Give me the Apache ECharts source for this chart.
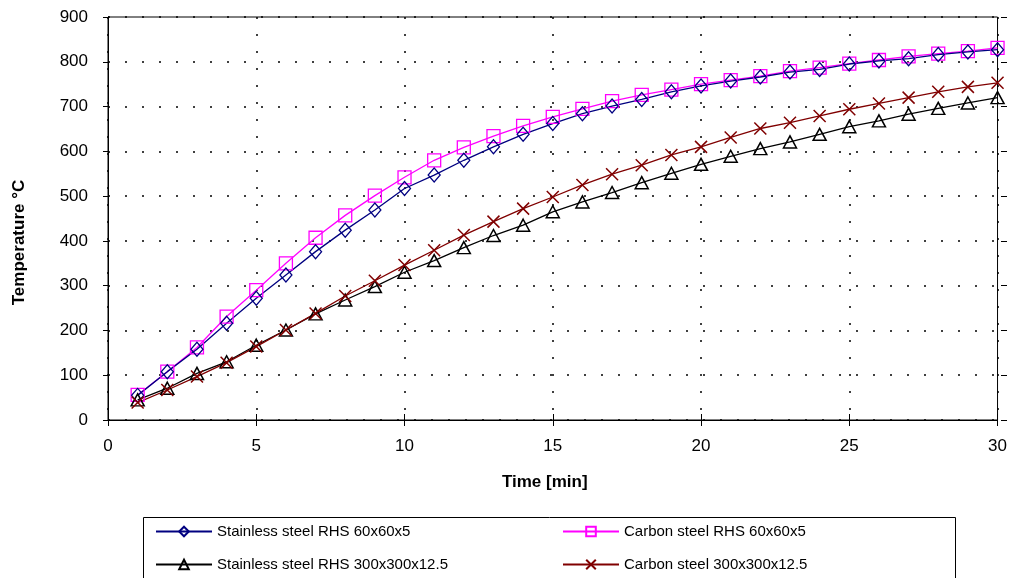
<!DOCTYPE html>
<html>
<head>
<meta charset="utf-8">
<script src="https://cdn.jsdelivr.net/npm/echarts@6/dist/echarts.min.js"></script>
<style>html,body{margin:0;padding:0;background:#fff}#c{width:1010px;height:578px}</style>
</head>
<body>
<div id="c"></div>
<script>
const times = [1,2,3,4,5,6,7,8,9,10,11,12,13,14,15,16,17,18,19,20,21,22,23,24,25,26,27,28,29,30];
const stainless60 = [55,108,158,216,272,324,376,424,469,517,547,580,610,638,662,684,701,716,733,746,757,766,777,783,795,802,807,816,822,827];
const carbon60 = [56,108,162,231,290,350,407,457,501,542,580,609,634,657,677,695,712,726,738,750,759,768,779,787,796,804,812,818,824,831];
const stainless300 = [45,71,104,130,167,201,237,268,298,330,356,385,412,435,465,487,508,530,551,571,589,606,621,638,655,668,683,696,708,720];
const carbon300 = [39,67,97,128,164,201,238,277,311,346,379,413,443,472,498,525,549,569,592,610,631,651,664,679,694,707,720,733,744,753];
const seriesNames = ['Stainless steel RHS 60x60x5','Carbon steel RHS 60x60x5','Stainless steel RHS 300x300x12.5','Carbon steel 300x300x12.5'];

const pair = arr => times.map((t,i)=>[t,arr[i]]);
const xPath = 'path://M0,0L10,10M10,0L0,10';
const font = 'Liberation Sans, Arial, sans-serif';
const grid = {type:[2,15], color:'#000', width:1.5};
const G = {left:108,right:9,top:17,bottom:158};
const W = 1010 - G.left - G.right, H = 578 - G.top - G.bottom;

const chart = echarts.init(document.getElementById('c'));
chart.setOption({
  animation:false,
  textStyle:{fontFamily:font},
  grid:Object.assign({show:true,borderColor:'#000',borderWidth:1,backgroundColor:'transparent'},G),
  xAxis:[{type:'value',min:0,max:30,interval:5,
    name:'Time [min]',nameLocation:'middle',nameGap:54,
    nameTextStyle:{fontSize:17,fontWeight:'bold',color:'#000',fontFamily:font,padding:[0,16,0,0]},
    axisLine:{lineStyle:{color:'#000',width:1}},
    axisTick:{length:6,lineStyle:{color:'#000'}},
    axisLabel:{fontSize:17,color:'#000',margin:18,fontFamily:font},
    splitLine:{show:true,lineStyle:grid}},
   {type:'value',min:0,max:30,interval:5,position:'top',offset:-H,
    axisLine:{show:false},axisTick:{show:true,length:6,lineStyle:{color:'#000'}},
    axisLabel:{show:false},splitLine:{show:false}}],
  yAxis:[{type:'value',min:0,max:900,interval:100,
    name:'Temperature °C',nameLocation:'middle',nameGap:80,
    nameTextStyle:{fontSize:17,fontWeight:'bold',color:'#000',fontFamily:font,padding:[0,48,0,0]},
    axisLine:{show:true,lineStyle:{color:'#000',width:1}},
    axisTick:{show:true,length:5,lineStyle:{color:'#000'}},
    axisLabel:{fontSize:17,color:'#000',margin:20,fontFamily:font,padding:[6,0,0,0]},
    splitLine:{show:true,lineStyle:grid}},
   {type:'value',min:0,max:900,interval:100,position:'right',offset:-W,
    axisLine:{show:false},axisTick:{show:true,length:6,lineStyle:{color:'#000'}},
    axisLabel:{show:false},splitLine:{show:false}}],
  legend:[
    {data:[seriesNames[0],seriesNames[2]],orient:'vertical',left:150,top:519,itemGap:18,itemWidth:56,itemHeight:12,
     textStyle:{fontSize:15,color:'#000',fontFamily:font}},
    {data:[seriesNames[1],seriesNames[3]],orient:'vertical',left:557,top:519,itemGap:18,itemWidth:56,itemHeight:12,
     textStyle:{fontSize:15,color:'#000',fontFamily:font}}
  ],
  graphic:[{type:'rect',shape:{x:143.5,y:517.5,width:812,height:80},style:{fill:'none',stroke:'#000',lineWidth:1},silent:true,z:-1}],
  series:[
    {name:seriesNames[1],type:'line',data:pair(carbon60),symbol:'rect',symbolSize:13,
     lineStyle:{color:'#FF00FF',width:1.3},itemStyle:{color:'none',borderColor:'#FF00FF',borderWidth:1.3}},
    {name:seriesNames[0],type:'line',data:pair(stainless60),symbol:'diamond',symbolSize:[12,14],
     lineStyle:{color:'#000080',width:1.3},itemStyle:{color:'none',borderColor:'#000080',borderWidth:1.3}},
    {name:seriesNames[2],type:'line',data:pair(stainless300),symbol:'triangle',symbolSize:[13,12],
     lineStyle:{color:'#000',width:1.3},itemStyle:{color:'none',borderColor:'#000',borderWidth:1.5}},
    {name:seriesNames[3],type:'line',data:pair(carbon300),symbol:xPath,symbolSize:12,
     lineStyle:{color:'#800000',width:1.3},itemStyle:{color:'#800000',borderColor:'#800000',borderWidth:1.5}}
  ]
});
</script>
</body>
</html>
